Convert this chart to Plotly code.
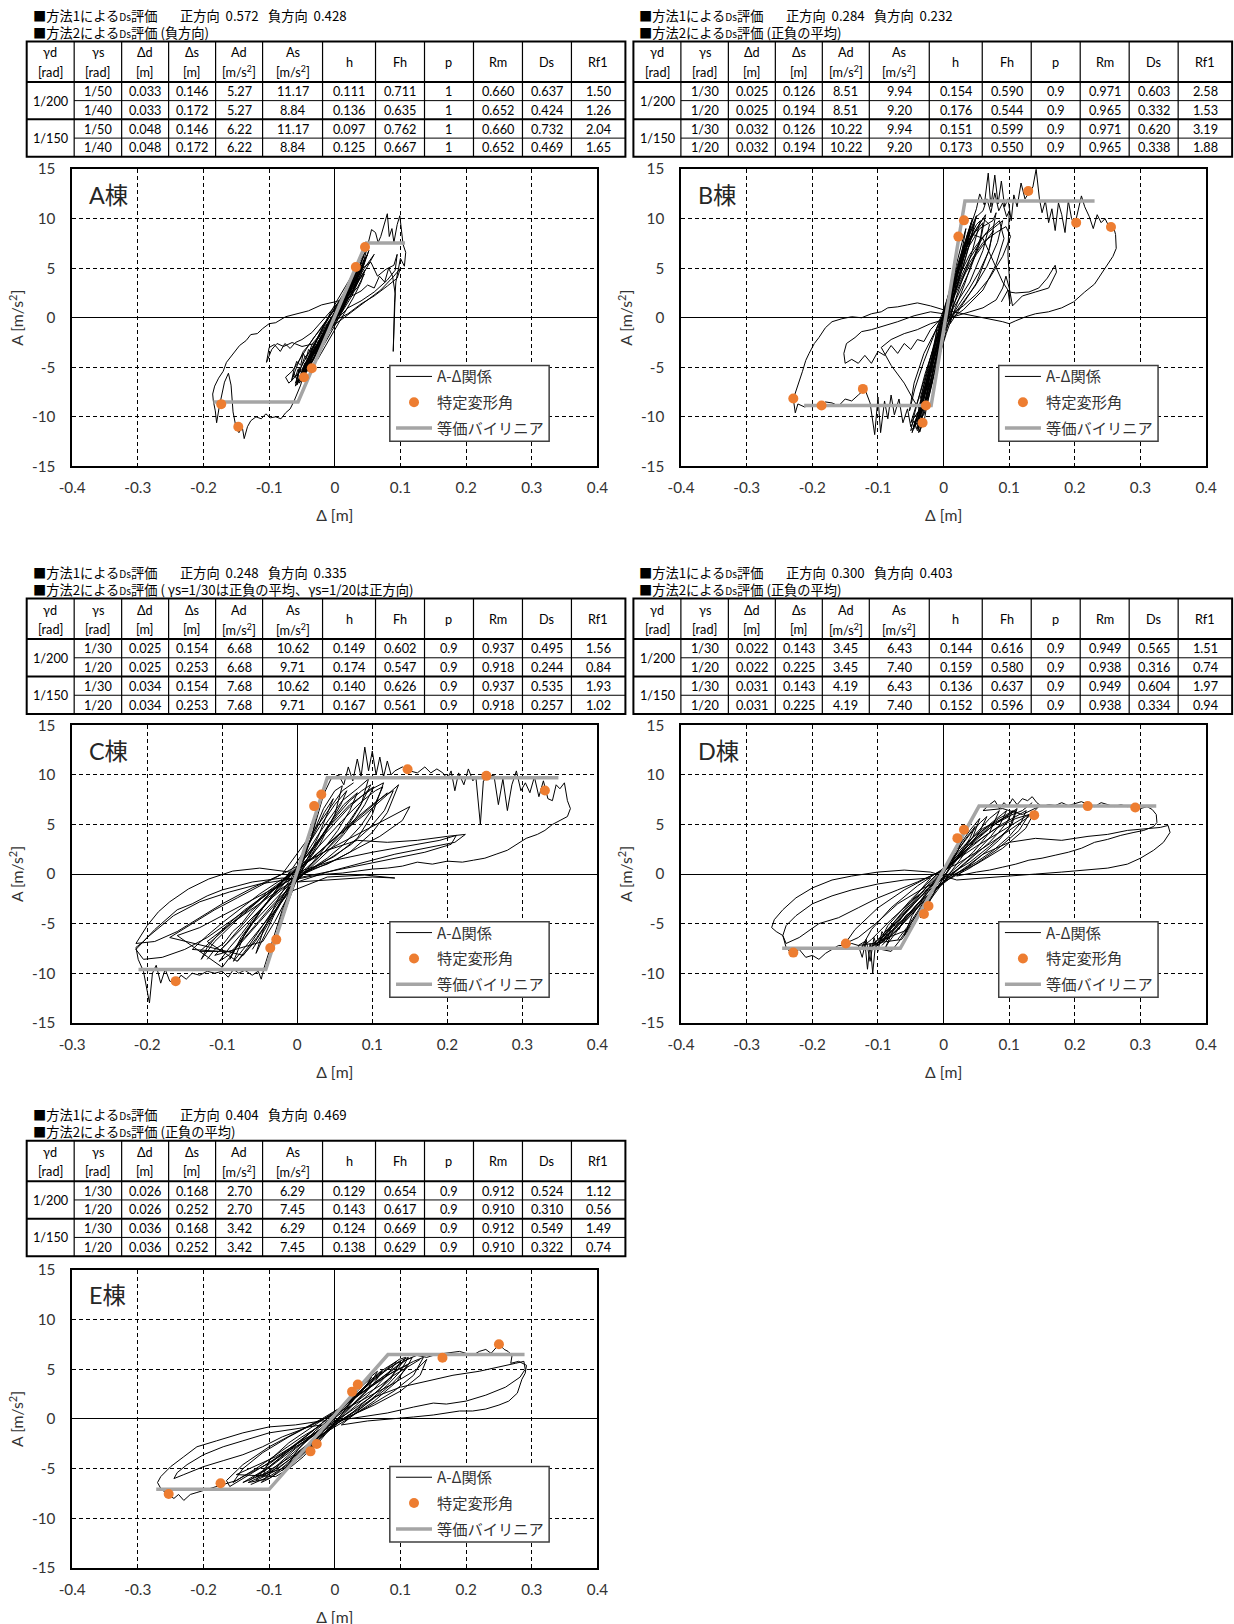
import plotly.graph_objects as go

# page-to-figure mapping measured from the rendered page (offset and scale of the figure in the photo)
SX, BX = 0.9812, 12.3
SY, BY = 0.9896, 8.56
FW, FH = 1246, 1634
FS = 1.017  # font compensation
LFONT = "Lato, 'Noto Sans CJK JP', sans-serif"
JFONT = "'Noto Sans CJK JP', Lato, sans-serif"

# ---------------- data ----------------
panel_names = ["A棟", "B棟", "C棟", "D棟", "E棟"]
method1_pos = ["0.572", "0.284", "0.248", "0.300", "0.404"]
method1_neg = ["0.428", "0.232", "0.335", "0.403", "0.469"]
method2_note = ["(負方向)", "(正負の平均)", "( γs=1/30は正負の平均、γs=1/20は正方向)", "(正負の平均)", "(正負の平均)"]

col_head1 = ["γd", "γs", "Δd", "Δs", "Ad", "As", "h", "Fh", "p", "Rm", "Ds", "Rf1"]
col_head2 = ["[rad]", "[rad]", "[m]", "[m]", "[m/s<sup>2</sup>]", "[m/s<sup>2</sup>]", "", "", "", "", "", ""]
gamma_d = ["1/200", "1/150"]

table_A = [["1/50", "0.033", "0.146", "5.27", "11.17", "0.111", "0.711", "1", "0.660", "0.637", "1.50"],
           ["1/40", "0.033", "0.172", "5.27", "8.84", "0.136", "0.635", "1", "0.652", "0.424", "1.26"],
           ["1/50", "0.048", "0.146", "6.22", "11.17", "0.097", "0.762", "1", "0.660", "0.732", "2.04"],
           ["1/40", "0.048", "0.172", "6.22", "8.84", "0.125", "0.667", "1", "0.652", "0.469", "1.65"]]
table_B = [["1/30", "0.025", "0.126", "8.51", "9.94", "0.154", "0.590", "0.9", "0.971", "0.603", "2.58"],
           ["1/20", "0.025", "0.194", "8.51", "9.20", "0.176", "0.544", "0.9", "0.965", "0.332", "1.53"],
           ["1/30", "0.032", "0.126", "10.22", "9.94", "0.151", "0.599", "0.9", "0.971", "0.620", "3.19"],
           ["1/20", "0.032", "0.194", "10.22", "9.20", "0.173", "0.550", "0.9", "0.965", "0.338", "1.88"]]
table_C = [["1/30", "0.025", "0.154", "6.68", "10.62", "0.149", "0.602", "0.9", "0.937", "0.495", "1.56"],
           ["1/20", "0.025", "0.253", "6.68", "9.71", "0.174", "0.547", "0.9", "0.918", "0.244", "0.84"],
           ["1/30", "0.034", "0.154", "7.68", "10.62", "0.140", "0.626", "0.9", "0.937", "0.535", "1.93"],
           ["1/20", "0.034", "0.253", "7.68", "9.71", "0.167", "0.561", "0.9", "0.918", "0.257", "1.02"]]
table_D = [["1/30", "0.022", "0.143", "3.45", "6.43", "0.144", "0.616", "0.9", "0.949", "0.565", "1.51"],
           ["1/20", "0.022", "0.225", "3.45", "7.40", "0.159", "0.580", "0.9", "0.938", "0.316", "0.74"],
           ["1/30", "0.031", "0.143", "4.19", "6.43", "0.136", "0.637", "0.9", "0.949", "0.604", "1.97"],
           ["1/20", "0.031", "0.225", "4.19", "7.40", "0.152", "0.596", "0.9", "0.938", "0.334", "0.94"]]
table_E = [["1/30", "0.026", "0.168", "2.70", "6.29", "0.129", "0.654", "0.9", "0.912", "0.524", "1.12"],
           ["1/20", "0.026", "0.252", "2.70", "7.45", "0.143", "0.617", "0.9", "0.910", "0.310", "0.56"],
           ["1/30", "0.036", "0.168", "3.42", "6.29", "0.124", "0.669", "0.9", "0.912", "0.549", "1.49"],
           ["1/20", "0.036", "0.252", "3.42", "7.45", "0.138", "0.629", "0.9", "0.910", "0.322", "0.74"]]

x_ticks_wide = [-0.4, -0.3, -0.2, -0.1, 0, 0.1, 0.2, 0.3, 0.4]
x_labels_wide = ["-0.4", "-0.3", "-0.2", "-0.1", "0", "0.1", "0.2", "0.3", "0.4"]
x_ticks_C = [-0.3, -0.2, -0.1, 0, 0.1, 0.2, 0.3, 0.4]
x_labels_C = ["-0.3", "-0.2", "-0.1", "0", "0.1", "0.2", "0.3", "0.4"]
y_ticks = [-15, -10, -5, 0, 5, 10, 15]
y_labels = ["-15", "-10", "-5", "0", "5", "10", "15"]

# equivalent bilinear (Δ, A)
bil_A = [(-0.185, -8.5), (-0.056, -8.5), (0.048, 7.55), (0.107, 7.55)]
bil_B = [(-0.2125, -8.86), (-0.019, -8.86), (0.0325, 11.78), (0.230, 11.78)]
bil_C = [(-0.2116, -9.63), (-0.042, -9.63), (0.040, 9.70), (0.348, 9.70)]
bil_D = [(-0.246, -7.48), (-0.066, -7.48), (0.054, 6.85), (0.324, 6.85)]
bil_E = [(-0.272, -7.08), (-0.100, -7.08), (0.081, 6.48), (0.289, 6.48)]

# specific deformation angle points (Δ, A)
pts_A = [(-0.173, -8.72), (-0.147, -11.0), (-0.047, -6.0), (-0.035, -5.1), (0.032, 5.13), (0.046, 7.15)]
pts_B = [(-0.229, -8.15), (-0.186, -8.86), (-0.123, -7.18), (-0.027, -8.86), (-0.032, -10.6),
         (0.0225, 8.19), (0.031, 9.83), (0.129, 12.79), (0.202, 9.6), (0.255, 9.16)]
pts_C = [(-0.162, -10.8), (-0.036, -7.45), (-0.028, -6.61), (0.0225, 6.85), (0.032, 8.02),
         (0.147, 10.57), (0.252, 9.9), (0.330, 8.42)]
pts_D = [(-0.229, -7.92), (-0.149, -7.01), (-0.030, -4.03), (-0.023, -3.22), (0.021, 3.62),
         (0.031, 4.46), (0.138, 5.94), (0.2195, 6.85), (0.292, 6.71)]
pts_E = [(-0.253, -7.55), (-0.174, -6.48), (-0.037, -3.26), (-0.0275, -2.52), (0.0263, 2.75),
         (0.035, 3.46), (0.164, 6.17), (0.250, 7.52)]

# A-Δ hysteresis traces (Δ [m], A [m/s2])
path_A = [
    (0.000, 0.2), (0.012, 1.6), (0.020, 2.5), (0.014, 1.3), (-0.004, -0.9), (-0.018, -2.6), (-0.012, -1.5), (0.006, 0.6),
    (0.022, 2.4), (0.030, 3.9), (0.024, 2.7), (-0.002, -0.2), (-0.026, -3.1), (-0.038, -4.7), (-0.030, -3.2), (-0.010, -1.0),
    (0.012, 1.2), (0.034, 4.3), (0.040, 5.3), (0.032, 3.9), (0.006, 0.9), (-0.022, -2.0), (-0.044, -5.3), (-0.052, -6.3),
    (-0.043, -4.6), (-0.020, -1.8), (0.010, 1.4), (0.030, 3.2), (0.046, 5.9), (0.052, 6.8), (0.044, 5.3), (0.020, 2.6),
    (-0.004, 0.1), (-0.030, -2.6), (-0.050, -5.6), (-0.057, -6.6), (-0.055, -5.4), (-0.040, -3.6), (-0.015, -0.9), (0.015, 2.0),
    (0.040, 4.6), (0.050, 7.4), (0.056, 8.9), (0.062, 8.6), (0.066, 7.6), (0.070, 8.2), (0.075, 9.3), (0.080, 10.5),
    (0.083, 8.2), (0.087, 9.0), (0.090, 7.6), (0.095, 9.4), (0.099, 10.3), (0.101, 8.8), (0.104, 7.4), (0.108, 6.6),
    (0.106, 5.2), (0.100, 6.0), (0.096, 4.6), (0.093, 3.6), (0.091, 1.5), (0.089, -3.4), (0.092, 2.4), (0.088, 4.2),
    (0.082, 5.0), (0.076, 3.6), (0.068, 4.2), (0.060, 3.0), (0.050, 3.3), (0.040, 2.7), (0.020, 2.0), (0.000, 1.6),
    (-0.020, 1.3), (-0.040, 0.7), (-0.060, 0.4), (-0.075, 0.1), (-0.090, -0.5), (-0.100, -0.6), (-0.110, -1.1), (-0.118, -1.6),
    (-0.128, -1.7), (-0.135, -2.3), (-0.145, -2.8), (-0.152, -3.4), (-0.158, -3.8), (-0.165, -4.5), (-0.170, -5.4), (-0.177, -6.1),
    (-0.183, -6.9), (-0.186, -7.7), (-0.185, -8.4), (-0.182, -9.4), (-0.180, -10.6), (-0.176, -9.0), (-0.168, -6.5), (-0.162, -5.6),
    (-0.158, -6.8), (-0.155, -9.5), (-0.150, -11.2), (-0.146, -11.6), (-0.141, -11.0), (-0.138, -12.2), (-0.133, -11.0), (-0.128, -10.4),
    (-0.120, -10.0), (-0.112, -10.2), (-0.105, -9.7), (-0.098, -10.1), (-0.090, -10.0), (-0.082, -10.2), (-0.075, -9.6), (-0.068, -9.2),
    (-0.062, -8.4), (-0.057, -7.6), (-0.052, -6.8), (-0.048, -5.8), (-0.040, -4.2), (-0.030, -2.6), (-0.050, -2.9), (-0.065, -2.5),
    (-0.078, -2.9), (-0.088, -2.6), (-0.096, -3.2), (-0.104, -4.5), (-0.100, -3.0), (-0.092, -2.7), (-0.083, -3.4), (-0.076, -2.6),
    (-0.068, -3.1), (-0.060, -2.5), (-0.050, -2.2), (-0.035, -1.5), (-0.015, 0.0), (0.010, 1.8), (0.030, 3.4), (0.045, 4.4),
    (0.035, 3.1), (0.015, 1.6), (-0.010, -1.3), (-0.030, -3.2), (-0.045, -4.6), (-0.055, -6.2), (-0.060, -6.9), (-0.056, -5.7),
    (-0.070, -6.6), (-0.075, -6.0), (-0.065, -5.4), (-0.058, -4.7), (-0.040, -2.8), (-0.020, -0.9), (0.000, 0.8), (0.020, 2.9),
    (0.040, 4.9), (0.055, 5.6), (0.065, 4.2), (0.078, 4.9), (0.090, 5.3), (0.095, 6.4), (0.092, 4.8), (0.080, 3.8),
    (0.060, 2.6), (0.040, 1.7), (0.020, 1.0), (0.000, -0.4), (-0.020, -2.1), (-0.035, -3.8), (-0.045, -5.0), (-0.040, -4.4),
    (-0.025, -2.5), (0.000, 0.0), (0.025, 2.8), (0.045, 5.0), (0.060, 6.4), (0.050, 5.2), (0.030, 3.0), (0.010, 0.6),
    (-0.010, -1.2), (-0.035, -4.0), (-0.048, -6.0), (-0.038, -4.0), (-0.018, -1.8), (0.004, 0.8), (0.028, 3.6), (0.038, 4.0),
    (0.026, 2.2), (0.002, -0.4), (-0.022, -2.8), (-0.042, -5.4), (-0.034, -3.6), (-0.012, -1.0), (0.018, 2.2), (0.036, 4.6)]

dense_A = [
    (-0.052, -6.0), (-0.040, -5.0), (-0.020, -2.6), (0.000, -0.2), (0.020, 2.2), (0.038, 4.6), (0.044, 5.6), (0.036, 4.8),
    (0.018, 2.6), (0.000, 0.6), (-0.020, -1.8), (-0.040, -4.4), (-0.050, -5.8), (-0.058, -6.8), (-0.046, -5.4), (-0.030, -3.4),
    (-0.012, -1.2), (0.008, 1.2), (0.026, 3.4), (0.042, 5.4), (0.050, 6.4), (0.040, 5.4), (0.024, 3.6), (0.004, 1.4),
    (-0.016, -0.8), (-0.034, -3.0), (-0.050, -5.4), (-0.044, -5.4), (-0.036, -4.0), (-0.028, -3.4), (-0.022, -2.2), (-0.012, -1.6),
    (-0.004, -0.2), (0.008, 0.6), (0.016, 2.0), (0.028, 2.8), (0.034, 4.0), (0.030, 3.0), (0.020, 2.2), (0.012, 0.8),
    (0.000, 0.2), (-0.010, -1.4), (-0.022, -2.6), (-0.032, -4.2), (-0.040, -4.8), (-0.036, -5.2), (-0.024, -3.6), (-0.012, -2.2),
    (0.000, -0.8), (0.012, 0.8), (0.024, 2.4), (0.036, 3.8), (0.046, 4.8), (0.040, 3.6), (0.028, 2.0), (0.014, 0.4),
    (0.002, -1.0), (-0.012, -2.6), (-0.026, -4.2), (-0.010, -0.6), (0.020, 0.4), (0.040, 1.4), (0.060, 2.2), (0.080, 3.2),
    (0.095, 4.0), (0.100, 5.0), (0.090, 4.2), (0.070, 2.8), (0.050, 1.8), (0.030, 0.8), (0.010, -0.2), (-0.012, -1.2),
    (-0.020, -2.6), (-0.028, -2.4), (-0.034, -3.6), (-0.040, -3.2), (-0.044, -4.2), (-0.048, -3.6), (-0.052, -4.8), (-0.058, -4.4),
    (-0.062, -5.2), (-0.066, -6.4), (-0.062, -5.6), (-0.058, -6.2), (-0.054, -5.0), (-0.050, -5.6), (-0.040, -4.0), (-0.028, -2.2),
    (-0.014, -0.4), (0.004, 1.8), (0.022, 3.8), (0.038, 5.6), (0.046, 6.6), (0.038, 5.2), (0.020, 3.0), (0.002, 0.8),
    (-0.016, -1.6), (-0.036, -4.6), (-0.054, -6.6), (-0.046, -5.0), (-0.028, -2.8), (-0.008, -0.4), (0.014, 2.4), (0.032, 4.6)]

dense2_A = [
    (-0.060, -6.0), (-0.056, -5.2), (-0.050, -5.6), (-0.046, -4.6), (-0.040, -4.8), (-0.036, -3.8), (-0.030, -3.4), (-0.024, -2.4),
    (-0.018, -2.0), (-0.010, -0.8), (-0.004, -0.4), (0.004, 0.8), (0.010, 1.2), (0.018, 2.4), (0.024, 2.8), (0.030, 3.8),
    (0.036, 4.2), (0.042, 5.0), (0.046, 5.8), (0.040, 4.4), (0.034, 3.6), (0.026, 2.4), (0.018, 1.8), (0.010, 0.6),
    (0.002, 0.0), (-0.006, -1.2), (-0.014, -1.6), (-0.022, -2.8), (-0.030, -3.2), (-0.038, -4.4), (-0.046, -5.0), (-0.054, -6.2),
    (-0.060, -6.6), (-0.052, -5.0), (-0.046, -4.0), (-0.040, -3.6), (-0.034, -2.6), (-0.026, -2.0), (-0.018, -1.0), (-0.008, 0.2),
    (0.002, 1.0), (0.012, 2.0), (0.022, 3.2), (0.032, 4.4), (0.040, 5.6), (0.044, 6.2), (0.036, 5.0), (0.026, 3.6),
    (0.016, 2.4), (0.006, 1.2), (-0.004, 0.0), (-0.016, -1.4), (-0.028, -2.8), (-0.040, -4.0), (-0.050, -5.2), (-0.058, -5.8),
    (-0.064, -6.0), (-0.056, -4.6), (-0.048, -3.4), (-0.040, -2.8), (-0.032, -2.0), (-0.022, -1.2), (-0.010, 0.0), (0.004, 1.4),
    (0.018, 2.8), (0.030, 3.8), (0.022, 2.4), (0.010, 0.8), (-0.004, -0.8), (-0.020, -2.6), (-0.034, -4.4), (-0.046, -5.8)]

path_B = [
    (0.000, 0.5), (0.010, 3.0), (0.018, 5.0), (0.012, 3.2), (-0.004, -0.8), (-0.015, -4.0), (-0.022, -6.2), (-0.016, -4.2),
    (0.002, 0.8), (0.020, 5.6), (0.028, 7.6), (0.034, 9.0), (0.026, 6.0), (0.008, 1.6), (-0.010, -3.2), (-0.025, -7.0),
    (-0.032, -8.6), (-0.026, -6.4), (-0.008, -1.6), (0.012, 3.4), (0.030, 7.2), (0.045, 9.6), (0.050, 10.3), (0.042, 8.0),
    (0.030, 5.2), (0.015, 2.0), (-0.005, -1.8), (-0.020, -5.2), (-0.035, -9.2), (-0.040, -10.8), (-0.036, -11.5), (-0.030, -9.0),
    (-0.015, -4.0), (0.005, 1.0), (0.025, 5.8), (0.045, 8.4), (0.060, 9.6), (0.055, 7.5), (0.040, 4.8), (0.020, 2.0),
    (0.000, -1.0), (-0.018, -5.0), (-0.030, -8.2), (-0.044, -10.6), (-0.048, -11.6), (-0.040, -10.0), (-0.025, -6.0), (-0.005, -0.6),
    (0.018, 4.2), (0.040, 8.0), (0.060, 10.0), (0.070, 9.4), (0.060, 6.8), (0.040, 3.6), (0.015, 1.0), (-0.010, -2.6),
    (-0.028, -7.0), (-0.038, -9.4), (-0.030, -6.8), (-0.010, -1.4), (0.015, 3.4), (0.035, 6.8), (0.055, 9.0), (0.075, 9.8),
    (0.080, 10.6), (0.070, 7.0), (0.050, 3.5), (0.030, 1.4), (0.010, -0.6), (0.020, 4.0), (0.040, 9.0), (0.050, 11.0),
    (0.055, 12.5), (0.062, 11.4), (0.068, 14.6), (0.072, 11.2), (0.078, 14.4), (0.083, 11.5), (0.088, 13.8), (0.093, 11.2),
    (0.098, 12.0), (0.103, 9.8), (0.107, 12.4), (0.112, 11.2), (0.118, 13.6), (0.124, 12.0), (0.130, 12.6), (0.136, 13.2),
    (0.141, 15.0), (0.146, 12.0), (0.150, 10.6), (0.155, 11.8), (0.160, 9.6), (0.165, 11.0), (0.170, 8.8), (0.175, 11.6),
    (0.180, 10.4), (0.185, 8.6), (0.190, 11.8), (0.195, 10.0), (0.200, 9.4), (0.205, 11.0), (0.210, 12.3), (0.215, 11.2),
    (0.222, 10.2), (0.228, 9.0), (0.234, 10.4), (0.240, 9.6), (0.246, 10.0), (0.252, 9.2), (0.258, 9.4), (0.262, 8.4),
    (0.263, 7.0), (0.258, 6.2), (0.250, 5.4), (0.240, 4.4), (0.230, 3.4), (0.215, 2.6), (0.198, 1.6), (0.180, 1.0),
    (0.160, 0.6), (0.140, 0.4), (0.125, 0.1), (0.110, -0.3), (0.100, -0.6), (0.090, -0.4), (0.075, -0.2), (0.060, 0.0),
    (0.040, 0.3), (0.020, 0.6), (0.000, 0.8), (-0.020, 1.2), (-0.040, 1.5), (-0.055, 1.3), (-0.070, 1.1), (-0.085, 1.0),
    (-0.095, 0.6), (-0.110, 0.4), (-0.125, 0.0), (-0.140, 0.1), (-0.155, -0.1), (-0.170, -0.4), (-0.180, -1.0), (-0.190, -2.0),
    (-0.197, -2.6), (-0.205, -3.6), (-0.210, -4.3), (-0.215, -5.4), (-0.220, -6.4), (-0.225, -7.4), (-0.229, -8.2), (-0.226, -9.6),
    (-0.222, -8.7), (-0.212, -9.0), (-0.200, -8.8), (-0.190, -9.0), (-0.180, -8.5), (-0.170, -8.6), (-0.160, -8.9), (-0.150, -8.2),
    (-0.140, -8.4), (-0.130, -7.8), (-0.120, -7.2), (-0.112, -8.6), (-0.105, -11.8), (-0.100, -8.0), (-0.096, -11.6), (-0.090, -8.4),
    (-0.085, -10.2), (-0.080, -7.8), (-0.075, -9.8), (-0.068, -8.2), (-0.062, -10.6), (-0.055, -9.2), (-0.050, -11.0), (-0.045, -10.4),
    (-0.040, -11.4), (-0.035, -10.8), (-0.030, -8.0), (-0.015, -3.0), (0.000, 0.4), (-0.020, 0.6), (-0.045, 0.2), (-0.070, -0.4),
    (-0.090, -0.8), (-0.110, -1.2), (-0.125, -1.4), (-0.135, -2.0), (-0.148, -2.6), (-0.152, -3.6), (-0.150, -4.6), (-0.140, -4.2),
    (-0.130, -4.6), (-0.120, -3.8), (-0.110, -4.6), (-0.100, -3.4), (-0.090, -3.8), (-0.080, -2.8), (-0.070, -3.6), (-0.060, -2.6),
    (-0.050, -3.2), (-0.040, -2.2), (-0.030, -2.4), (-0.020, -1.2), (0.000, 0.2), (0.020, 4.5), (0.030, 6.5), (0.045, 8.4),
    (0.060, 8.0), (0.075, 5.8), (0.090, 3.6), (0.100, 2.6), (0.110, 2.5), (0.130, 2.6), (0.145, 3.0), (0.158, 4.0),
    (0.170, 5.3), (0.172, 4.6), (0.160, 3.0), (0.140, 2.6), (0.120, 2.2), (0.105, 1.2), (0.100, 3.0), (0.095, 4.2),
    (0.090, 3.0), (0.080, 1.8), (0.060, 1.0), (0.040, 0.6), (0.020, 0.2), (0.000, -0.2), (-0.020, -0.6), (-0.040, -1.2),
    (-0.060, -1.6), (-0.080, -2.2), (-0.095, -3.0), (-0.080, -4.8), (-0.060, -6.6), (-0.045, -8.4), (-0.035, -9.4), (-0.020, -5.4),
    (0.000, -0.4), (0.020, 3.2), (0.040, 6.0), (0.065, 8.6), (0.085, 9.8), (0.092, 8.0), (0.080, 5.4), (0.060, 2.8),
    (0.030, 0.8), (0.000, -0.6)]

dense_B = [
    (-0.040, -10.4), (-0.032, -8.4), (-0.022, -6.0), (-0.012, -3.6), (0.000, -0.6), (0.012, 2.6), (0.024, 5.6), (0.036, 8.0),
    (0.046, 9.4), (0.040, 7.6), (0.028, 5.0), (0.016, 2.2), (0.004, -0.6), (-0.008, -3.4), (-0.020, -6.4), (-0.032, -9.2),
    (-0.046, -11.0), (-0.036, -9.0), (-0.024, -6.6), (-0.014, -4.6), (-0.004, -2.0), (0.008, 1.2), (0.022, 4.6), (0.036, 7.2),
    (0.052, 9.2), (0.064, 10.4), (0.058, 8.4), (0.046, 6.0), (0.032, 3.4), (0.018, 1.0), (0.004, -1.6), (-0.010, -4.6),
    (-0.024, -7.8), (-0.036, -10.0), (-0.030, -9.8), (-0.022, -7.8), (-0.014, -5.4), (-0.006, -3.0), (0.004, -0.2), (0.014, 2.8),
    (0.026, 6.2), (0.038, 8.8), (0.044, 10.0), (0.036, 8.2), (0.024, 5.4), (0.012, 2.4), (0.000, -0.8), (-0.012, -4.2),
    (-0.024, -8.0), (-0.050, -10.6), (-0.040, -8.6), (-0.030, -6.4), (-0.020, -4.0), (-0.008, -1.4), (0.006, 1.6), (0.022, 4.0),
    (0.040, 6.4), (0.060, 8.2), (0.078, 9.2), (0.090, 9.8), (0.082, 7.6), (0.066, 5.2), (0.048, 3.2), (0.030, 1.6),
    (0.012, 0.0), (-0.006, -2.4), (-0.022, -5.4), (-0.036, -8.6), (-0.038, -11.6), (-0.030, -10.6), (-0.026, -9.0), (-0.018, -6.8),
    (-0.010, -4.4), (-0.002, -1.8), (0.008, 1.0), (0.018, 3.6), (0.030, 6.6), (0.040, 8.6), (0.032, 6.4), (0.022, 4.0),
    (0.010, 1.4), (-0.002, -1.4), (-0.014, -4.8), (-0.026, -8.0), (-0.010, -1.0), (0.020, 3.0), (0.040, 5.6), (0.060, 7.6),
    (0.080, 8.6), (0.095, 9.2), (0.102, 8.2), (0.090, 6.2), (0.070, 4.0), (0.050, 2.4), (0.030, 1.2), (0.010, 0.2),
    (-0.010, -1.0), (-0.030, -3.6), (-0.045, -6.6), (-0.052, -9.4), (-0.044, -7.2), (-0.030, -4.4), (-0.016, -2.0), (0.000, 0.8),
    (0.020, 4.8), (0.036, 7.8), (0.050, 10.2), (0.060, 10.8), (0.066, 12.0), (0.072, 10.6), (0.078, 12.6), (0.084, 10.8),
    (0.090, 11.6), (0.096, 10.2), (0.100, 10.8), (0.098, 6.4), (0.100, 4.2), (0.101, 1.4), (0.098, 2.8), (0.088, 1.6)]

dense2_B = [
    (-0.044, -11.2), (-0.040, -9.6), (-0.036, -10.2), (-0.032, -8.8), (-0.028, -9.0), (-0.024, -7.2), (-0.020, -6.8), (-0.016, -5.2),
    (-0.012, -4.4), (-0.008, -3.0), (-0.004, -2.0), (0.002, -0.4), (0.008, 1.0), (0.014, 2.6), (0.020, 3.8), (0.026, 5.4),
    (0.032, 6.4), (0.038, 7.8), (0.044, 8.6), (0.050, 9.4), (0.056, 9.8), (0.050, 8.2), (0.044, 6.8), (0.038, 5.6),
    (0.030, 4.2), (0.022, 2.6), (0.014, 1.0), (0.006, -0.8), (-0.002, -2.6), (-0.010, -4.6), (-0.018, -6.6), (-0.026, -8.6),
    (-0.034, -10.4), (-0.040, -11.2), (-0.034, -9.0), (-0.028, -7.4), (-0.020, -5.6), (-0.012, -3.4), (-0.004, -1.2), (0.004, 0.8),
    (0.012, 2.8), (0.020, 4.8), (0.028, 6.6), (0.036, 8.4), (0.042, 9.6), (0.036, 7.4), (0.028, 5.2), (0.020, 3.2),
    (0.010, 1.0), (0.000, -1.4), (-0.010, -3.8), (-0.020, -6.4), (-0.030, -8.8), (-0.042, -10.8), (-0.050, -11.4), (-0.044, -9.6),
    (-0.036, -7.6), (-0.028, -5.6), (-0.018, -3.6), (-0.008, -1.8), (0.004, 0.4), (0.018, 2.4), (0.034, 4.6), (0.050, 6.4),
    (0.066, 7.8), (0.076, 8.8), (0.068, 6.6), (0.054, 4.6), (0.038, 2.8), (0.022, 1.2), (0.006, -0.6), (-0.010, -2.8),
    (-0.024, -5.4), (-0.036, -8.2)]

path_C = [
    (0.000, 0.0), (0.010, 2.2), (0.020, 4.8), (0.028, 6.8), (0.020, 4.0), (0.005, 0.6), (-0.010, -2.4), (-0.020, -4.6),
    (-0.030, -6.8), (-0.022, -4.4), (-0.005, -0.8), (0.015, 3.0), (0.035, 6.6), (0.050, 8.4), (0.060, 8.9), (0.050, 6.0),
    (0.030, 3.0), (0.010, 0.8), (-0.010, -1.4), (-0.030, -4.0), (-0.045, -6.4), (-0.055, -8.0), (-0.045, -5.6), (-0.025, -2.4),
    (0.000, 0.6), (0.030, 4.2), (0.060, 7.4), (0.080, 8.6), (0.095, 9.6), (0.085, 7.0), (0.060, 4.0), (0.030, 1.8),
    (0.000, -0.2), (-0.030, -2.6), (-0.060, -5.0), (-0.080, -7.2), (-0.090, -8.6), (-0.075, -6.4), (-0.050, -3.8), (-0.020, -1.2),
    (0.010, 1.6), (0.040, 4.6), (0.070, 7.0), (0.100, 8.6), (0.115, 9.2), (0.100, 6.0), (0.080, 3.6), (0.050, 1.8),
    (0.020, 0.6), (-0.010, -0.6), (-0.040, -2.0), (-0.070, -3.6), (-0.100, -5.6), (-0.120, -7.4), (-0.128, -8.6), (-0.110, -6.8),
    (-0.080, -4.6), (-0.050, -2.6), (-0.020, -0.8), (0.010, 1.0), (0.050, 3.6), (0.090, 6.0), (0.120, 8.0), (0.135, 9.0),
    (0.120, 6.2), (0.100, 4.2), (0.070, 2.2), (0.040, 1.0), (0.000, 0.0), (0.020, 4.0), (0.035, 8.0), (0.045, 9.6),
    (0.055, 10.0), (0.062, 9.0), (0.068, 10.8), (0.074, 9.4), (0.080, 11.6), (0.085, 9.8), (0.090, 12.8), (0.095, 10.4),
    (0.100, 12.4), (0.105, 10.0), (0.110, 11.8), (0.115, 9.8), (0.120, 11.4), (0.125, 10.0), (0.130, 10.4), (0.140, 10.8),
    (0.150, 10.4), (0.160, 10.2), (0.170, 10.8), (0.178, 10.2), (0.186, 10.6), (0.194, 10.2), (0.200, 9.6), (0.205, 10.4),
    (0.210, 8.4), (0.215, 10.2), (0.222, 9.0), (0.228, 10.6), (0.234, 9.4), (0.238, 9.8), (0.244, 5.0), (0.248, 9.4),
    (0.255, 9.8), (0.262, 10.0), (0.268, 7.0), (0.274, 9.6), (0.280, 6.4), (0.286, 9.0), (0.292, 10.4), (0.298, 8.4),
    (0.304, 9.2), (0.310, 8.2), (0.316, 9.8), (0.322, 7.8), (0.328, 9.4), (0.334, 7.6), (0.340, 7.4), (0.345, 9.0),
    (0.350, 8.6), (0.356, 9.2), (0.360, 7.4), (0.364, 6.6), (0.360, 5.8), (0.350, 5.4), (0.340, 5.0), (0.330, 4.4),
    (0.320, 4.0), (0.305, 3.6), (0.292, 3.0), (0.280, 2.4), (0.265, 2.0), (0.250, 1.6), (0.235, 1.4), (0.220, 1.2),
    (0.200, 1.3), (0.180, 1.0), (0.160, 1.2), (0.140, 0.8), (0.120, 0.6), (0.100, 0.5), (0.080, 0.3), (0.060, 0.1),
    (0.040, 0.0), (0.020, -0.2), (0.000, -0.5), (-0.020, -0.4), (-0.040, -0.6), (-0.060, -0.8), (-0.080, -1.2), (-0.100, -1.6),
    (-0.120, -2.2), (-0.140, -3.0), (-0.160, -3.6), (-0.175, -4.6), (-0.190, -5.6), (-0.205, -6.8), (-0.215, -7.4), (-0.212, -8.6),
    (-0.205, -9.8), (-0.200, -11.8), (-0.197, -13.0), (-0.193, -10.0), (-0.188, -9.2), (-0.182, -11.0), (-0.176, -9.6), (-0.170, -10.8),
    (-0.162, -11.0), (-0.155, -10.2), (-0.148, -10.6), (-0.140, -10.0), (-0.130, -10.2), (-0.120, -9.8), (-0.110, -10.0), (-0.100, -9.8),
    (-0.092, -10.4), (-0.085, -9.6), (-0.078, -10.0), (-0.070, -9.7), (-0.060, -10.2), (-0.052, -9.8), (-0.048, -10.6), (-0.044, -9.4),
    (-0.035, -7.2), (-0.020, -3.6), (0.000, 0.2), (0.050, 1.4), (0.100, 2.2), (0.150, 2.9), (0.190, 3.4), (0.212, 3.9),
    (0.205, 3.0), (0.170, 2.2), (0.130, 1.6), (0.090, 1.0), (0.050, 0.4), (0.000, -0.4), (-0.050, -1.0), (-0.090, -1.8),
    (-0.130, -2.8), (-0.165, -4.2), (-0.200, -6.4), (-0.215, -7.6), (-0.205, -8.6), (-0.180, -8.4), (-0.150, -7.6), (-0.120, -6.4),
    (-0.090, -4.8), (-0.060, -3.2), (-0.030, -1.4), (0.000, 0.6), (0.040, 2.4), (0.080, 3.4), (0.120, 3.2), (0.160, 3.4),
    (0.200, 3.8), (0.224, 4.0), (0.210, 3.2), (0.170, 2.6), (0.130, 2.0), (0.100, 1.4), (0.070, 0.8), (0.040, 0.2),
    (0.000, -0.8), (0.060, -0.5), (0.100, -0.3), (0.130, -0.4), (0.090, -0.1), (0.040, -0.3), (-0.010, -1.8), (-0.040, -4.6),
    (-0.070, -7.4), (-0.085, -8.8), (-0.070, -6.0), (-0.040, -2.8), (-0.010, 0.2), (-0.050, 0.6), (-0.086, 0.3), (-0.118, -0.5),
    (-0.145, -1.5), (-0.170, -2.8), (-0.185, -3.8), (-0.200, -5.2), (-0.215, -7.0), (-0.190, -6.8), (-0.160, -5.8), (-0.130, -4.4),
    (-0.100, -3.0), (-0.060, -1.4), (-0.020, 0.0), (0.030, 5.2), (0.060, 8.4), (0.075, 9.2)]

dense_C = [
    (-0.060, -7.6), (-0.048, -6.2), (-0.034, -4.4), (-0.020, -2.4), (-0.006, -0.4), (0.008, 1.8), (0.022, 4.0), (0.036, 6.2),
    (0.048, 7.6), (0.040, 6.0), (0.028, 3.8), (0.014, 1.6), (0.000, -0.4), (-0.014, -2.4), (-0.030, -4.8), (-0.046, -6.8),
    (-0.110, -8.2), (-0.094, -7.0), (-0.076, -5.4), (-0.056, -3.6), (-0.034, -1.8), (-0.012, -0.2), (0.012, 1.4), (0.036, 3.4),
    (0.060, 5.4), (0.084, 7.2), (0.104, 8.4), (0.114, 8.8), (0.102, 6.8), (0.084, 4.8), (0.062, 3.0), (0.040, 1.6),
    (0.016, 0.4), (-0.008, -0.8), (-0.034, -2.4), (-0.060, -4.4), (-0.086, -6.4), (-0.104, -7.8), (-0.140, -7.6), (-0.120, -6.2),
    (-0.098, -4.8), (-0.074, -3.4), (-0.050, -2.0), (-0.026, -0.8), (0.000, 0.4), (0.026, 2.0), (0.052, 3.8), (0.078, 5.6),
    (0.100, 7.0), (0.118, 8.0), (0.128, 8.4), (0.116, 6.4), (0.096, 4.6), (0.072, 3.0), (0.048, 1.8), (0.022, 0.6),
    (-0.004, -0.6), (-0.032, -2.0), (-0.062, -3.6), (-0.092, -5.2), (-0.120, -6.8), (-0.080, -8.8), (-0.066, -7.4), (-0.050, -5.6),
    (-0.032, -3.6), (-0.014, -1.6), (0.004, 0.4), (0.022, 2.6), (0.042, 5.0), (0.062, 7.0), (0.080, 8.2), (0.070, 6.4),
    (0.054, 4.4), (0.034, 2.4), (0.014, 0.6), (-0.008, -1.4), (-0.030, -3.8), (-0.054, -6.4), (-0.072, -8.2), (-0.170, -6.4),
    (-0.140, -5.0), (-0.110, -3.6), (-0.080, -2.4), (-0.050, -1.2), (-0.020, 0.0), (0.010, 1.2), (0.040, 2.4), (0.070, 3.6),
    (0.100, 4.8), (0.130, 6.0), (0.150, 6.8), (0.140, 5.4), (0.110, 3.8), (0.080, 2.6), (0.050, 1.4), (0.020, 0.4),
    (-0.010, -0.6), (-0.040, -1.8), (-0.070, -3.0), (-0.100, -4.2), (-0.130, -5.4), (-0.160, -6.2), (-0.100, -9.4), (-0.090, -8.4),
    (-0.074, -6.6), (-0.060, -5.0), (-0.044, -3.2), (-0.026, -1.4), (-0.008, 0.4), (0.010, 2.4), (0.030, 4.8), (0.050, 7.0),
    (0.066, 8.4), (0.058, 7.0), (0.044, 5.2), (0.028, 3.0), (0.010, 0.8), (-0.010, -1.4), (-0.032, -4.0), (-0.056, -6.8),
    (-0.080, -8.8)]

dense2_C = [
    (-0.120, -8.6), (-0.110, -7.6), (-0.098, -7.0), (-0.086, -5.8), (-0.074, -5.0), (-0.062, -3.8), (-0.050, -3.0), (-0.038, -2.0),
    (-0.026, -1.2), (-0.014, -0.2), (-0.002, 0.6), (0.010, 1.6), (0.022, 2.6), (0.034, 3.8), (0.046, 4.8), (0.058, 5.8),
    (0.070, 6.8), (0.082, 7.6), (0.094, 8.4), (0.102, 8.8), (0.090, 7.0), (0.076, 5.4), (0.062, 4.0), (0.048, 2.8),
    (0.034, 1.8), (0.020, 0.8), (0.006, -0.2), (-0.008, -1.2), (-0.022, -2.4), (-0.036, -3.6), (-0.050, -4.8), (-0.064, -6.0),
    (-0.078, -7.2), (-0.092, -8.2), (-0.104, -8.8), (-0.090, -7.4), (-0.074, -6.0), (-0.058, -4.4), (-0.042, -3.0), (-0.026, -1.6),
    (-0.010, -0.2), (0.006, 1.2), (0.022, 2.8), (0.038, 4.4), (0.054, 6.0), (0.070, 7.4), (0.086, 8.4), (0.098, 9.0),
    (0.086, 7.2), (0.070, 5.4), (0.054, 3.8), (0.038, 2.4), (0.020, 1.0), (0.002, -0.4), (-0.016, -1.8), (-0.034, -3.2),
    (-0.052, -4.8), (-0.070, -6.4), (-0.088, -7.8), (-0.130, -7.8), (-0.112, -6.6), (-0.094, -5.4), (-0.076, -4.2), (-0.058, -3.0),
    (-0.040, -1.8), (-0.022, -0.8), (-0.004, 0.2), (0.014, 1.2), (0.032, 2.4), (0.050, 3.6), (0.068, 4.8), (0.086, 6.0),
    (0.104, 7.2), (0.120, 8.2)]

path_D = [
    (0.000, 0.0), (0.010, 1.2), (0.020, 2.6), (0.030, 3.8), (0.022, 2.4), (0.005, 0.2), (-0.010, -1.4), (-0.025, -3.2),
    (-0.035, -4.4), (-0.025, -2.6), (-0.005, -0.2), (0.015, 2.0), (0.040, 4.4), (0.055, 5.6), (0.045, 3.8), (0.020, 1.4),
    (-0.005, -0.6), (-0.030, -3.0), (-0.050, -5.0), (-0.060, -6.2), (-0.048, -4.2), (-0.020, -1.4), (0.010, 1.0), (0.040, 3.4),
    (0.070, 5.6), (0.085, 6.4), (0.070, 4.2), (0.045, 2.2), (0.015, 0.4), (-0.015, -1.2), (-0.045, -3.4), (-0.070, -5.6),
    (-0.085, -7.0), (-0.090, -7.6), (-0.075, -5.4), (-0.050, -3.2), (-0.020, -0.8), (0.010, 1.2), (0.050, 3.6), (0.090, 5.6),
    (0.110, 6.4), (0.100, 4.6), (0.070, 2.8), (0.040, 1.2), (0.000, -0.4), (-0.040, -2.2), (-0.080, -4.6), (-0.110, -6.6),
    (-0.125, -7.4), (-0.110, -5.6), (-0.080, -3.4), (-0.040, -1.2), (0.000, 0.6), (0.050, 2.8), (0.100, 4.8), (0.125, 5.8),
    (0.138, 6.2), (0.125, 4.6), (0.090, 2.6), (0.050, 1.0), (0.010, -0.2), (-0.030, -1.4), (-0.070, -3.0), (-0.100, -4.8),
    (-0.130, -6.4), (-0.150, -7.0), (-0.135, -5.6), (-0.100, -3.4), (-0.060, -1.6), (-0.020, -0.2), (0.020, 1.0), (0.060, 2.6),
    (0.100, 4.4), (0.130, 5.8), (0.145, 6.8), (0.120, 6.0), (0.090, 6.6), (0.060, 6.4), (0.070, 7.0), (0.078, 7.4),
    (0.085, 6.6), (0.092, 7.2), (0.098, 6.8), (0.105, 7.6), (0.112, 7.0), (0.120, 7.6), (0.128, 7.4), (0.135, 7.8),
    (0.142, 7.2), (0.150, 6.8), (0.160, 7.0), (0.170, 6.9), (0.180, 7.2), (0.190, 6.9), (0.200, 7.1), (0.210, 7.3),
    (0.220, 7.0), (0.230, 6.8), (0.240, 7.2), (0.250, 7.0), (0.260, 6.8), (0.270, 7.0), (0.280, 6.8), (0.290, 6.9),
    (0.300, 6.6), (0.310, 6.8), (0.318, 6.5), (0.324, 6.0), (0.325, 5.2), (0.320, 4.8), (0.305, 4.4), (0.290, 4.2),
    (0.270, 3.9), (0.250, 3.5), (0.230, 3.2), (0.210, 2.6), (0.190, 2.2), (0.170, 1.9), (0.150, 1.6), (0.130, 1.4),
    (0.110, 1.0), (0.090, 0.7), (0.070, 0.4), (0.050, 0.2), (0.020, -0.2), (0.060, 2.0), (0.100, 3.2), (0.140, 3.6),
    (0.180, 3.4), (0.220, 3.8), (0.250, 4.0), (0.280, 4.4), (0.310, 4.6), (0.330, 4.7), (0.342, 4.9), (0.345, 4.2),
    (0.335, 3.2), (0.320, 2.4), (0.300, 1.6), (0.280, 1.0), (0.250, 0.6), (0.220, 0.4), (0.180, 0.2), (0.140, 0.0),
    (0.100, -0.2), (0.060, -0.4), (0.020, -0.6), (-0.020, 0.2), (-0.060, 0.4), (-0.100, 0.2), (-0.140, -0.2), (-0.170, -0.6),
    (-0.200, -1.4), (-0.225, -2.4), (-0.245, -3.6), (-0.258, -4.6), (-0.262, -5.4), (-0.255, -5.8), (-0.245, -6.2), (-0.240, -7.4),
    (-0.232, -8.0), (-0.220, -7.6), (-0.210, -8.4), (-0.200, -8.2), (-0.190, -8.6), (-0.180, -8.0), (-0.170, -7.6), (-0.160, -7.2),
    (-0.150, -7.2), (-0.140, -7.0), (-0.130, -7.2), (-0.120, -6.8), (-0.116, -9.6), (-0.112, -7.0), (-0.108, -10.0), (-0.104, -7.2),
    (-0.095, -6.6), (-0.080, -5.2), (-0.060, -3.6), (-0.040, -2.0), (-0.020, -0.4), (-0.060, -0.6), (-0.100, -1.0), (-0.140, -1.6),
    (-0.170, -2.2), (-0.200, -3.0), (-0.225, -4.2), (-0.240, -5.2), (-0.245, -6.2), (-0.240, -7.0), (-0.220, -6.4), (-0.190, -5.0),
    (-0.160, -4.4), (-0.130, -3.4), (-0.100, -2.4), (-0.070, -1.6), (-0.040, -0.8), (0.000, 0.4), (0.040, 2.8), (0.080, 4.6),
    (0.110, 5.6), (0.130, 6.0), (0.115, 4.4), (0.080, 2.4), (0.040, 0.6), (0.000, -0.8), (-0.040, -3.0), (-0.080, -6.0),
    (-0.100, -7.2), (-0.085, -5.2), (-0.050, -2.6), (-0.010, 0.0), (0.030, 2.4), (0.070, 4.8), (0.100, 5.8)]

dense_D = [
    (-0.070, -6.6), (-0.056, -5.4), (-0.040, -3.8), (-0.024, -2.2), (-0.008, -0.6), (0.008, 1.0), (0.024, 2.6), (0.040, 4.0),
    (0.056, 5.2), (0.066, 5.8), (0.056, 4.4), (0.040, 2.8), (0.022, 1.2), (0.004, -0.4), (-0.014, -2.0), (-0.034, -3.8),
    (-0.054, -5.6), (-0.100, -6.8), (-0.084, -5.6), (-0.064, -4.2), (-0.044, -2.8), (-0.022, -1.4), (0.000, 0.2), (0.022, 1.6),
    (0.046, 3.2), (0.070, 4.6), (0.094, 5.8), (0.112, 6.6), (0.104, 5.0), (0.084, 3.4), (0.060, 2.0), (0.036, 0.8),
    (0.010, -0.4), (-0.016, -1.8), (-0.044, -3.6), (-0.072, -5.4), (-0.092, -6.6), (-0.118, -7.6), (-0.100, -6.6), (-0.080, -5.2),
    (-0.058, -3.6), (-0.036, -2.0), (-0.014, -0.6), (0.010, 0.8), (0.036, 2.4), (0.062, 3.8), (0.088, 5.0), (0.110, 5.8),
    (0.126, 6.4), (0.118, 5.2), (0.100, 3.8), (0.076, 2.4), (0.050, 1.2), (0.024, 0.2), (-0.004, -1.0), (-0.032, -2.6),
    (-0.062, -4.6), (-0.090, -6.4), (-0.110, -7.4), (-0.080, -7.8), (-0.068, -6.8), (-0.054, -5.4), (-0.040, -4.0), (-0.026, -2.6),
    (-0.012, -1.2), (0.002, 0.4), (0.018, 2.0), (0.034, 3.6), (0.048, 4.8), (0.040, 3.6), (0.026, 2.2), (0.010, 0.6),
    (-0.006, -1.0), (-0.024, -2.8), (-0.044, -4.8), (-0.064, -6.6), (-0.130, -7.2), (-0.124, -8.4), (-0.118, -6.6), (-0.112, -8.8),
    (-0.106, -6.4), (-0.100, -7.8), (-0.094, -5.8), (-0.086, -6.6), (-0.078, -5.0), (-0.068, -5.6), (-0.058, -4.2), (-0.046, -3.6),
    (-0.032, -2.4), (-0.016, -0.8), (0.004, 0.8), (0.030, 2.8), (0.060, 4.6), (0.090, 5.6), (0.120, 6.4), (0.135, 7.2)]

dense2_D = [
    (-0.110, -7.4), (-0.100, -6.6), (-0.090, -6.2), (-0.080, -5.4), (-0.070, -4.8), (-0.060, -4.0), (-0.050, -3.4), (-0.040, -2.6),
    (-0.030, -2.0), (-0.020, -1.2), (-0.010, -0.6), (0.000, 0.2), (0.012, 1.0), (0.024, 1.8), (0.036, 2.8), (0.048, 3.6),
    (0.060, 4.4), (0.072, 5.0), (0.084, 5.6), (0.096, 6.0), (0.106, 6.4), (0.096, 5.2), (0.084, 4.2), (0.070, 3.2),
    (0.056, 2.4), (0.042, 1.6), (0.028, 0.8), (0.014, 0.0), (0.000, -0.8), (-0.014, -1.6), (-0.028, -2.6), (-0.042, -3.6),
    (-0.056, -4.6), (-0.070, -5.6), (-0.084, -6.4), (-0.096, -7.0), (-0.084, -5.8), (-0.070, -4.8), (-0.056, -3.8), (-0.042, -2.8),
    (-0.028, -1.8), (-0.014, -0.8), (0.000, 0.2), (0.014, 1.2), (0.028, 2.2), (0.042, 3.2), (0.056, 4.2), (0.070, 5.0),
    (0.084, 5.8), (0.096, 6.4), (0.086, 5.0), (0.072, 3.8), (0.058, 2.8), (0.044, 1.8), (0.030, 1.0), (0.016, 0.2),
    (0.002, -0.6), (-0.012, -1.4), (-0.026, -2.4), (-0.040, -3.4), (-0.054, -4.4), (-0.068, -5.4), (-0.082, -6.4), (-0.094, -7.2)]

path_E = [
    (0.000, 0.2), (0.015, 1.6), (0.030, 2.8), (0.040, 3.6), (0.030, 2.2), (0.010, 0.4), (-0.010, -1.2), (-0.025, -2.4),
    (-0.040, -3.4), (-0.030, -2.0), (-0.005, 0.0), (0.020, 1.8), (0.050, 4.0), (0.065, 4.8), (0.050, 3.0), (0.020, 1.0),
    (-0.010, -0.8), (-0.040, -2.8), (-0.060, -4.2), (-0.075, -5.2), (-0.060, -3.4), (-0.030, -1.2), (0.000, 0.4), (0.040, 2.8),
    (0.080, 5.0), (0.100, 5.8), (0.085, 4.0), (0.055, 2.2), (0.020, 0.6), (-0.020, -1.0), (-0.060, -3.0), (-0.090, -4.8),
    (-0.110, -5.8), (-0.100, -4.2), (-0.070, -2.4), (-0.030, -0.6), (0.010, 1.2), (0.050, 3.0), (0.090, 4.8), (0.120, 5.8),
    (0.135, 6.2), (0.120, 4.4), (0.090, 2.8), (0.050, 1.2), (0.010, -0.2), (-0.030, -1.6), (-0.070, -3.2), (-0.110, -4.8),
    (-0.140, -5.8), (-0.155, -6.4), (-0.140, -5.0), (-0.110, -3.4), (-0.070, -1.8), (-0.030, -0.4), (0.010, 0.8), (0.050, 2.2),
    (0.090, 3.6), (0.125, 5.0), (0.140, 6.0), (0.130, 4.4), (0.100, 2.8), (0.060, 1.4), (0.020, 0.2), (-0.020, -1.0),
    (-0.060, -2.6), (-0.100, -4.4), (-0.130, -5.6), (-0.160, -6.8), (-0.165, -6.2), (-0.140, -4.6), (-0.100, -2.8), (-0.060, -1.4),
    (-0.020, 0.0), (0.020, 1.6), (0.060, 3.6), (0.090, 5.0), (0.110, 6.0), (0.125, 6.4), (0.140, 6.2), (0.155, 6.5),
    (0.170, 6.6), (0.190, 6.8), (0.200, 6.6), (0.210, 6.4), (0.220, 6.8), (0.230, 7.0), (0.238, 6.6), (0.246, 7.2),
    (0.252, 7.4), (0.258, 7.0), (0.264, 6.8), (0.270, 6.4), (0.268, 5.6), (0.280, 5.8), (0.292, 5.4), (0.290, 4.6),
    (0.285, 4.0), (0.282, 3.4), (0.278, 2.6), (0.265, 1.8), (0.250, 1.4), (0.230, 1.0), (0.210, 0.8), (0.190, 0.8),
    (0.170, 0.6), (0.150, 0.4), (0.120, 0.2), (0.090, 0.0), (0.050, -0.2), (0.010, -0.6), (0.060, 2.2), (0.100, 3.2),
    (0.140, 3.8), (0.180, 4.4), (0.220, 4.8), (0.250, 5.2), (0.275, 5.6), (0.288, 5.8), (0.290, 5.0), (0.282, 4.2),
    (0.260, 3.2), (0.230, 2.4), (0.200, 1.8), (0.170, 1.5), (0.150, 1.6), (0.120, 1.2), (0.080, 0.6), (0.040, 0.2),
    (0.000, -0.2), (-0.020, -0.2), (-0.060, -0.6), (-0.100, -0.8), (-0.140, -1.4), (-0.180, -2.2), (-0.210, -2.8), (-0.230, -3.8),
    (-0.250, -4.8), (-0.265, -5.8), (-0.270, -6.4), (-0.265, -7.0), (-0.255, -7.6), (-0.245, -8.0), (-0.238, -7.6), (-0.230, -8.2),
    (-0.220, -7.6), (-0.210, -7.4), (-0.200, -7.2), (-0.190, -7.0), (-0.180, -6.8), (-0.170, -6.6), (-0.150, -6.2), (-0.120, -5.0),
    (-0.090, -3.6), (-0.050, -1.8), (-0.020, -0.6), (-0.060, -1.0), (-0.100, -1.4), (-0.140, -2.2), (-0.170, -2.8), (-0.200, -3.6),
    (-0.225, -4.6), (-0.240, -5.4), (-0.245, -6.0), (-0.230, -5.6), (-0.200, -4.8), (-0.170, -4.2), (-0.140, -3.6), (-0.110, -2.8),
    (-0.080, -1.8), (-0.040, -0.8), (0.000, 0.6), (0.040, 2.6), (0.080, 4.4), (0.110, 5.4), (0.095, 3.8), (0.060, 1.8),
    (0.020, 0.0), (-0.020, -1.6), (-0.060, -3.6), (-0.090, -5.2), (-0.120, -6.2), (-0.105, -4.8), (-0.070, -3.0), (-0.030, -1.0)]

dense_E = [
    (-0.080, -5.2), (-0.064, -4.2), (-0.046, -3.0), (-0.028, -1.8), (-0.010, -0.6), (0.008, 0.8), (0.026, 2.0), (0.044, 3.2),
    (0.060, 4.2), (0.072, 4.8), (0.062, 3.8), (0.046, 2.6), (0.028, 1.4), (0.010, 0.2), (-0.010, -1.0), (-0.030, -2.4),
    (-0.052, -3.8), (-0.070, -4.8), (-0.120, -5.8), (-0.100, -4.8), (-0.078, -3.6), (-0.056, -2.4), (-0.034, -1.2), (-0.012, 0.0),
    (0.012, 1.2), (0.036, 2.4), (0.060, 3.6), (0.084, 4.8), (0.104, 5.8), (0.118, 6.2), (0.108, 5.0), (0.088, 3.6),
    (0.066, 2.4), (0.042, 1.2), (0.018, 0.2), (-0.008, -1.0), (-0.034, -2.2), (-0.062, -3.6), (-0.090, -4.8), (-0.110, -5.6),
    (-0.140, -6.4), (-0.124, -5.8), (-0.104, -5.0), (-0.084, -4.0), (-0.062, -2.8), (-0.040, -1.6), (-0.018, -0.4), (0.004, 0.8),
    (0.028, 2.2), (0.052, 3.6), (0.076, 4.8), (0.098, 5.8), (0.112, 6.2), (0.100, 4.8), (0.080, 3.4), (0.056, 2.0),
    (0.030, 0.8), (0.004, -0.4), (-0.024, -1.8), (-0.054, -3.4), (-0.084, -4.8), (-0.112, -5.8), (-0.132, -6.4), (-0.100, -6.0),
    (-0.088, -5.4), (-0.074, -4.6), (-0.060, -3.8), (-0.044, -2.8), (-0.028, -1.8), (-0.012, -0.8), (0.004, 0.4), (0.022, 1.8),
    (0.040, 3.2), (0.056, 4.2), (0.046, 3.2), (0.030, 2.0), (0.012, 0.6), (-0.006, -0.8), (-0.026, -2.2), (-0.048, -3.8),
    (-0.070, -5.0), (-0.090, -5.8), (-0.150, -5.6), (-0.130, -5.0), (-0.110, -4.4), (-0.090, -3.8), (-0.070, -3.0), (-0.050, -2.2),
    (-0.030, -1.4), (-0.010, -0.4), (0.010, 0.6), (0.030, 1.6), (0.050, 2.6), (0.070, 3.4), (0.090, 4.4), (0.110, 5.2),
    (0.130, 6.0)]

dense2_E = [
    (-0.130, -6.2), (-0.118, -5.6), (-0.106, -5.2), (-0.094, -4.6), (-0.082, -4.0), (-0.070, -3.4), (-0.058, -2.8), (-0.046, -2.2),
    (-0.034, -1.6), (-0.022, -1.0), (-0.010, -0.4), (0.002, 0.4), (0.014, 1.0), (0.026, 1.8), (0.038, 2.6), (0.050, 3.4),
    (0.062, 4.2), (0.074, 4.8), (0.086, 5.4), (0.098, 6.0), (0.108, 6.2), (0.096, 5.0), (0.082, 4.0), (0.068, 3.0),
    (0.054, 2.2), (0.040, 1.4), (0.026, 0.6), (0.012, 0.0), (-0.002, -0.8), (-0.016, -1.6), (-0.030, -2.4), (-0.044, -3.2),
    (-0.058, -4.0), (-0.072, -4.8), (-0.086, -5.4), (-0.100, -6.0), (-0.112, -6.4), (-0.098, -5.4), (-0.084, -4.6), (-0.070, -3.8),
    (-0.056, -3.0), (-0.042, -2.2), (-0.028, -1.4), (-0.014, -0.6), (0.000, 0.2), (0.014, 1.0), (0.028, 2.0), (0.042, 3.0),
    (0.056, 4.0), (0.070, 4.8), (0.084, 5.4), (0.094, 5.8), (0.082, 4.6), (0.068, 3.6), (0.054, 2.6), (0.040, 1.8),
    (0.026, 1.0), (0.012, 0.2), (-0.002, -0.6), (-0.016, -1.4), (-0.030, -2.2), (-0.044, -3.0), (-0.058, -3.8), (-0.072, -4.6),
    (-0.086, -5.2), (-0.100, -5.8), (-0.114, -6.2), (-0.128, -6.6)]

# ---------------- layout (pixel placement) ----------------
tables = [table_A, table_B, table_C, table_D, table_E]
bils = [bil_A, bil_B, bil_C, bil_D, bil_E]
ptss = [pts_A, pts_B, pts_C, pts_D, pts_E]
paths = [path_A, path_B, path_C, path_D, path_E]
denses = [dense_A, dense_B, dense_C, dense_D, dense_E]
denses2 = [dense2_A, dense2_B, dense2_C, dense2_D, dense2_E]
xticks = [(x_ticks_wide, x_labels_wide)] * 2 + [(x_ticks_C, x_labels_C)] + [(x_ticks_wide, x_labels_wide)] * 2
xranges = [[-0.4, 0.4], [-0.4, 0.4], [-0.3, 0.4], [-0.4, 0.4], [-0.4, 0.4]]

# (table_left, table_top, plot_x0, plot_x1, plot_y0, plot_y1) in photo pixels
POS = [(26, 40, 71.5, 597, 167.8, 465.2),
       (633, 40, 680.7, 1206, 167.8, 465.2),
       (26, 597.5, 71.5, 597, 724.3, 1022),
       (633, 597.5, 680.7, 1206, 724.3, 1022),
       (26, 1140, 71.5, 597, 1269.3, 1567.5)]

COL_EDGES = [0, 47.5, 95, 142, 189, 236, 296, 349, 398, 447, 496, 545, 599]
HEAD_H = 40.5
ROW_H = 18.75


def px(v):
    return ((v - BX) / SX) / FW


def py(v):
    return 1 - ((v - BY) / SY) / FH


def fs(v):
    return round(v * FS, 2)


fig = go.Figure()
shapes = []
annotations = []
lay = {}

for i in range(5):
    tl, tt, x0, x1, y0, y1 = POS[i]
    n = "" if i == 0 else str(i + 1)
    xa, ya, lg = "x" + n, "y" + n, "legend" + n

    lx, ly = [], []
    for seg in (paths[i], denses[i], denses2[i]):
        lx += [p[0] for p in seg] + [None]
        ly += [p[1] for p in seg] + [None]
    fig.add_trace(go.Scatter(x=lx, y=ly, mode="lines",
                             line=dict(color="black", width=1), name="A-Δ関係",
                             xaxis=xa, yaxis=ya, legend=lg, legendgroup=f"a{i}", legendrank=1,
                             hoverinfo="skip"))
    fig.add_trace(go.Scatter(x=[p[0] for p in bils[i]], y=[p[1] for p in bils[i]], mode="lines",
                             line=dict(color="#A5A5A5", width=3.5), name="等価バイリニア",
                             xaxis=xa, yaxis=ya, legend=lg, legendgroup=f"c{i}", legendrank=3))
    fig.add_trace(go.Scatter(x=[p[0] for p in ptss[i]], y=[p[1] for p in ptss[i]], mode="markers",
                             marker=dict(color="#ED7D31", size=10), name="特定変形角",
                             xaxis=xa, yaxis=ya, legend=lg, legendgroup=f"b{i}", legendrank=2))

    tv, tt_lab = xticks[i]
    common = dict(showgrid=True, gridcolor="black", griddash="4px,3px", gridwidth=1,
                  zeroline=True, zerolinecolor="black", zerolinewidth=1.2,
                  showline=True, mirror=True, linecolor="black", linewidth=1.5,
                  ticks="outside", tickcolor="rgba(0,0,0,0)", fixedrange=True,
                  tickfont=dict(size=fs(15), family=LFONT, color="#333333"))
    lay["xaxis" + n] = dict(domain=[px(x0), px(x1)], anchor=ya, range=xranges[i],
                            tickvals=tv, ticktext=tt_lab, ticklen=7,
                            title=dict(text="Δ [m]", font=dict(size=fs(15.5), family=LFONT, color="#333333"), standoff=15),
                            **common)
    lay["yaxis" + n] = dict(domain=[py(y1), py(y0)], anchor=xa, range=[-15, 15],
                            tickvals=y_ticks, ticktext=y_labels, ticklen=12,
                            title=dict(text="A [m/s<sup>2</sup>]", font=dict(size=fs(15.5), family=LFONT, color="#333333"), standoff=4),
                            **common)
    # legend (box drawn as a shape below it)
    lay[lg] = dict(x=px(x0 + 319), y=py(y0 + 191), xanchor="left", yanchor="top",
                   xref="paper", yref="paper", bgcolor="rgba(0,0,0,0)", borderwidth=0,
                   font=dict(size=fs(15), family=JFONT, color="#333333"), tracegroupgap=3, itemwidth=36,
                   itemclick=False, itemdoubleclick=False)
    shapes.append(dict(type="rect", xref="paper", yref="paper", layer="above",
                       x0=px(x0 + 317.8), x1=px(x0 + 477.2), y0=py(y0 + 272.2), y1=py(y0 + 196.6),
                       fillcolor="white", line=dict(color="#404040", width=1.5)))

    # panel label
    annotations.append(dict(x=px(x0 + 14.5), y=py(y0 + 25.5), xref="paper", yref="paper", text=panel_names[i],
                            showarrow=False, xanchor="left", yanchor="middle",
                            font=dict(size=fs(23), family=LFONT, color="#262626")))

    # header texts
    ds = "<span style='font-size:%gpx'>Ds</span>" % fs(10)
    hy1 = tt - 26
    hfont = dict(size=fs(13), family=JFONT, color="black")
    annotations.append(dict(x=px(tl + 4), y=py(hy1), xref="paper", yref="paper",
                            text="■方法1による" + ds + "評価", showarrow=False, xanchor="left", yanchor="middle",
                            font=hfont))
    annotations.append(dict(x=px(tl + 151), y=py(hy1), xref="paper", yref="paper",
                            text="正方向  " + method1_pos[i], showarrow=False, xanchor="left", yanchor="middle",
                            font=hfont))
    annotations.append(dict(x=px(tl + 239), y=py(hy1), xref="paper", yref="paper",
                            text="負方向  " + method1_neg[i], showarrow=False, xanchor="left", yanchor="middle",
                            font=hfont))
    annotations.append(dict(x=px(tl + 4), y=py(tt - 9), xref="paper", yref="paper",
                            text="■方法2による" + ds + "評価 " + method2_note[i], showarrow=False,
                            xanchor="left", yanchor="middle", font=hfont))

    # table grid
    tw = COL_EDGES[-1]
    tb = tt + HEAD_H + 4 * ROW_H

    def hline(yv, xa0, xa1, w):
        shapes.append(dict(type="line", xref="paper", yref="paper", x0=px(xa0), x1=px(xa1),
                           y0=py(yv), y1=py(yv), line=dict(color="black", width=w)))

    def vline(xv, ya0, ya1, w):
        shapes.append(dict(type="line", xref="paper", yref="paper", x0=px(xv), x1=px(xv),
                           y0=py(ya0), y1=py(ya1), line=dict(color="black", width=w)))

    for e in COL_EDGES[1:-1]:
        vline(tl + e, tt, tb, 1.2)
    hline(tt + HEAD_H, tl, tl + tw, 2)
    hline(tt + HEAD_H + 2 * ROW_H, tl, tl + tw, 2)
    hline(tt + HEAD_H + ROW_H, tl + COL_EDGES[1], tl + tw, 1)
    hline(tt + HEAD_H + 3 * ROW_H, tl + COL_EDGES[1], tl + tw, 1)
    shapes.append(dict(type="rect", xref="paper", yref="paper", x0=px(tl), x1=px(tl + tw),
                       y0=py(tb), y1=py(tt), line=dict(color="black", width=2)))

    tfont = dict(size=fs(12.5), family=LFONT, color="black")
    for c in range(12):
        cx = tl + (COL_EDGES[c] + COL_EDGES[c + 1]) / 2
        if col_head2[c]:
            annotations.append(dict(x=px(cx), y=py(tt + 11), xref="paper", yref="paper", text=col_head1[c],
                                    showarrow=False, xanchor="center", yanchor="middle", font=tfont))
            annotations.append(dict(x=px(cx), y=py(tt + 30.5), xref="paper", yref="paper", text=col_head2[c],
                                    showarrow=False, xanchor="center", yanchor="middle", font=tfont))
        else:
            annotations.append(dict(x=px(cx), y=py(tt + HEAD_H / 2), xref="paper", yref="paper",
                                    text=col_head1[c], showarrow=False, xanchor="center", yanchor="middle",
                                    font=tfont))
    for g in range(2):
        cx = tl + (COL_EDGES[0] + COL_EDGES[1]) / 2
        annotations.append(dict(x=px(cx), y=py(tt + HEAD_H + (2 * g + 1) * ROW_H), xref="paper", yref="paper",
                                text=gamma_d[g], showarrow=False, xanchor="center", yanchor="middle", font=tfont))
    for r, row in enumerate(tables[i]):
        cy = tt + HEAD_H + (r + 0.5) * ROW_H
        for c, val in enumerate(row):
            cx = tl + (COL_EDGES[c + 1] + COL_EDGES[c + 2]) / 2
            annotations.append(dict(x=px(cx), y=py(cy), xref="paper", yref="paper", text=val,
                                    showarrow=False, xanchor="center", yanchor="middle", font=tfont))

fig.update_layout(width=FW, height=FH, autosize=False, margin=dict(l=0, r=0, t=0, b=0),
                  paper_bgcolor="white", plot_bgcolor="white",
                  font=dict(family=LFONT, color="black"),
                  shapes=shapes, annotations=annotations, **lay)

fig.write_html("out.html")
